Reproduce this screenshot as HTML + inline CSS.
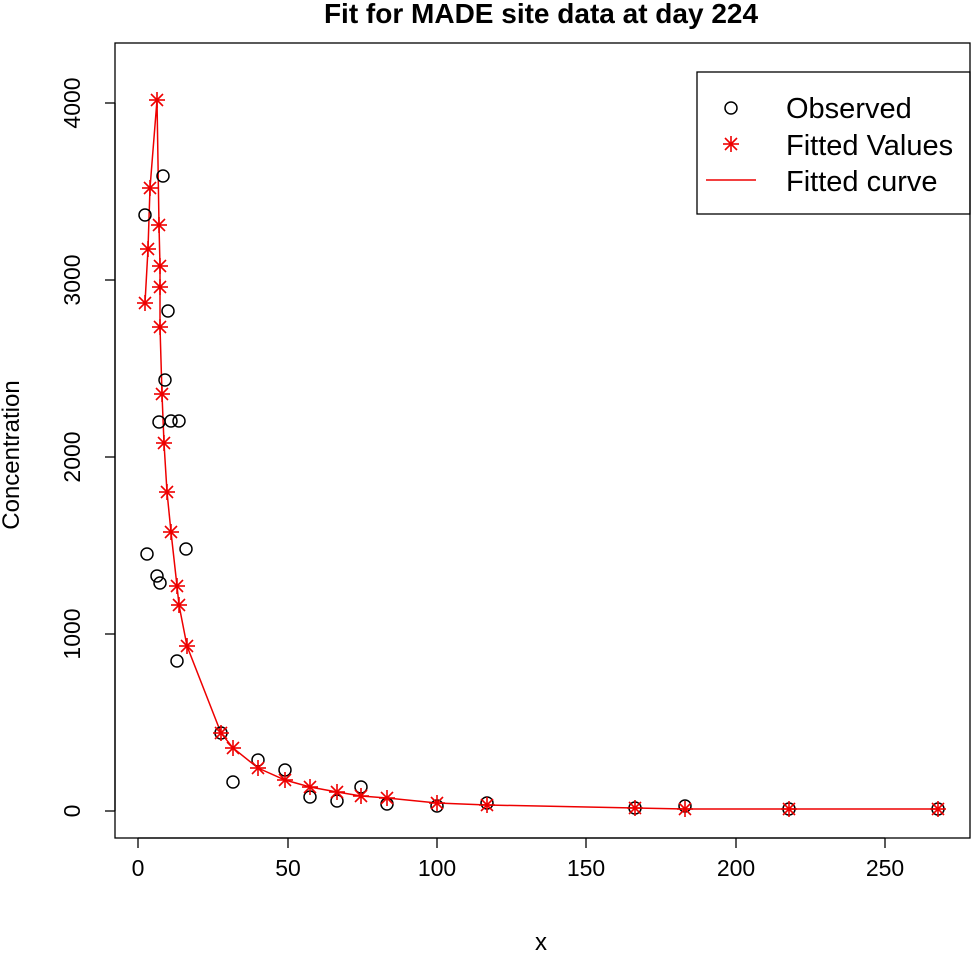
<!DOCTYPE html>
<html><head><style>body{margin:0;background:#fff}</style></head><body>
<svg width="972" height="952" xmlns="http://www.w3.org/2000/svg" font-family="Liberation Sans, Arial, sans-serif">
<rect width="972" height="952" fill="#fff"/>
<text x="541" y="23" text-anchor="middle" font-size="28" font-weight="bold">Fit for MADE site data at day 224</text>
<rect x="115" y="43" width="855" height="795" fill="none" stroke="#000" stroke-width="1.3"/>
<g stroke="#000" stroke-width="1.3">
<line x1="138" y1="838" x2="885" y2="838"/>
<line x1="138" y1="838" x2="138" y2="848"/><line x1="288" y1="838" x2="288" y2="848"/><line x1="437" y1="838" x2="437" y2="848"/><line x1="586" y1="838" x2="586" y2="848"/><line x1="736" y1="838" x2="736" y2="848"/><line x1="885" y1="838" x2="885" y2="848"/>
<line x1="115" y1="103" x2="115" y2="811"/>
<line x1="105" y1="811" x2="115" y2="811"/><line x1="105" y1="634" x2="115" y2="634"/><line x1="105" y1="457" x2="115" y2="457"/><line x1="105" y1="280" x2="115" y2="280"/><line x1="105" y1="103" x2="115" y2="103"/>
</g>
<g font-size="23" text-anchor="middle">
<text x="138" y="876">0</text><text x="288" y="876">50</text><text x="437" y="876">100</text><text x="586" y="876">150</text><text x="736" y="876">200</text><text x="885" y="876">250</text>
<text x="541" y="950" font-size="24">x</text>
<text transform="translate(80,811) rotate(-90)">0</text>
<text transform="translate(80,634) rotate(-90)">1000</text>
<text transform="translate(80,457) rotate(-90)">2000</text>
<text transform="translate(80,280) rotate(-90)">3000</text>
<text transform="translate(80,103) rotate(-90)">4000</text>
<text transform="translate(19,455) rotate(-90)" font-size="24">Concentration</text>
</g>
<polyline fill="none" stroke="#e00" stroke-width="1.5" points="145,303 148,249 150,188 157,100 159,225 160,266 160,287 160,327 162,394 164,443 167,492 171,532 177,586 179,605 187,646 221,733 233,748 258,768 285,780 310,787 337,792 361,796 387,798 437,803 487,805 635,808 685,809 789,809 938,809"/>
<g fill="none" stroke="#000" stroke-width="1.5">
<circle cx="163" cy="176" r="6"/><circle cx="145" cy="215" r="6"/><circle cx="168" cy="311" r="6"/><circle cx="147" cy="554" r="6"/><circle cx="165" cy="380" r="6"/><circle cx="159" cy="422" r="6"/><circle cx="171" cy="421" r="6"/><circle cx="179" cy="421" r="6"/><circle cx="186" cy="549" r="6"/><circle cx="157" cy="576" r="6"/><circle cx="160" cy="583" r="6"/><circle cx="177" cy="661" r="6"/><circle cx="221" cy="733" r="6"/><circle cx="233" cy="782" r="6"/><circle cx="258" cy="760" r="6"/><circle cx="285" cy="770" r="6"/><circle cx="310" cy="797" r="6"/><circle cx="337" cy="801" r="6"/><circle cx="361" cy="787" r="6"/><circle cx="387" cy="804" r="6"/><circle cx="437" cy="806" r="6"/><circle cx="487" cy="803" r="6"/><circle cx="635" cy="808" r="6"/><circle cx="685" cy="806" r="6"/><circle cx="789" cy="809" r="6"/><circle cx="938" cy="809" r="6"/>
<circle cx="731" cy="108" r="6"/>
</g>
<defs><g id="s" stroke="#e00" stroke-width="1.6"><line x1="-8" y1="0" x2="8" y2="0"/><line x1="0" y1="-8" x2="0" y2="8"/><line x1="-6" y1="-6" x2="6" y2="6"/><line x1="-6" y1="6" x2="6" y2="-6"/></g></defs>
<g>
<use href="#s" x="145" y="303"/><use href="#s" x="148" y="249"/><use href="#s" x="150" y="188"/><use href="#s" x="157" y="100"/><use href="#s" x="159" y="225"/><use href="#s" x="160" y="266"/><use href="#s" x="160" y="287"/><use href="#s" x="160" y="327"/><use href="#s" x="162" y="394"/><use href="#s" x="164" y="443"/><use href="#s" x="167" y="492"/><use href="#s" x="171" y="532"/><use href="#s" x="177" y="586"/><use href="#s" x="179" y="605"/><use href="#s" x="187" y="646"/><use href="#s" x="221" y="733"/><use href="#s" x="233" y="748"/><use href="#s" x="258" y="768"/><use href="#s" x="285" y="780"/><use href="#s" x="310" y="787"/><use href="#s" x="337" y="792"/><use href="#s" x="361" y="796"/><use href="#s" x="387" y="798"/><use href="#s" x="437" y="803"/><use href="#s" x="487" y="805"/><use href="#s" x="635" y="808"/><use href="#s" x="685" y="809"/><use href="#s" x="789" y="809"/><use href="#s" x="938" y="809"/>
<use href="#s" x="731" y="144"/>
</g>
<rect x="697" y="72" width="273" height="142" fill="none" stroke="#000" stroke-width="1.3"/>
<line x1="706" y1="180" x2="756" y2="180" stroke="#e00" stroke-width="1.5"/>
<g font-size="29"><text x="786" y="118">Observed</text><text x="786" y="155">Fitted Values</text><text x="786" y="191">Fitted curve</text></g>
</svg>
</body></html>
